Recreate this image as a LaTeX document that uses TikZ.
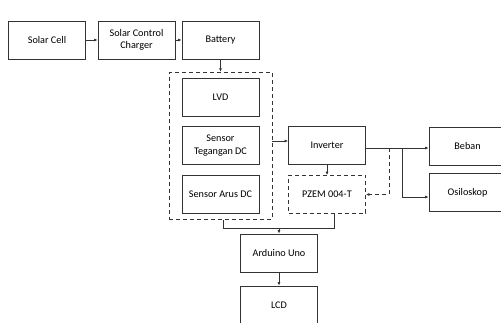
\documentclass[tikz,border=0pt]{standalone}
\usepackage{fontspec}
\setmainfont{Carlito}
\usetikzlibrary{arrows.meta,positioning,fit}

\tikzset{
    blok/.style={draw=black!80, minimum width=77pt, minimum height=38pt, align=center, font=\fontsize{10.2}{12.5}\selectfont},
    blokputus/.style={blok, dash pattern=on 4pt off 3pt},
    panah/.style={draw=black!80, -{Latex[length=3.5pt,width=3pt]}},
}

\begin{document}
\begin{tikzpicture}[x=1pt, y=-1pt, line width=0.7pt]
    \useasboundingbox (0,0) rectangle (501,323);
    \clip (0,0) rectangle (501,323);

    % baris atas
    \node[blok] (cell) at (47,40) {Solar Cell};
    \node[blok] (scc) at (136.5,40) {Solar Control\\Charger};
    \node[blok] (bat) at (220.5,40) {Battery};

    % kelompok sensor
    \node[blok] (lvd) at (220.5,97.5) {LVD};
    \node[blok] (teg) at (220.5,145.5) {Sensor\\Tegangan DC};
    \node[blok] (arus) at (220.5,194) {Sensor Arus DC};
    \node[draw=black!80, dash pattern=on 4pt off 3pt, fit=(lvd)(teg)(arus), inner xsep=12.5pt, inner ysep=6pt] (grp) {};

    % sisi AC
    \node[blok] (inv) at (327,145.5) {Inverter};
    \node[blokputus] (pzem) at (327,194.5) {PZEM 004-T};
    \node[blok] (beban) at (467.5,146) {Beban};
    \node[blok] (osc) at (467.5,192.5) {Osiloskop};

    % kontroler
    \node[blok] (ard) at (279,253) {Arduino Uno};
    \node[blok] (lcd) at (279,305) {LCD};

    % titik bantu
    \coordinate (invin) at ([yshift=4.5pt]inv.west);
    \coordinate (invout) at ([yshift=-2.5pt]inv.east);
    \coordinate (cab1) at ([xshift=23pt]invout);
    \coordinate (cab2) at ([xshift=36pt]invout);
    \coordinate (oscin) at ([yshift=-4.5pt]osc.west);
    \coordinate (gabung) at ([yshift=5pt]ard.north);

    % panah
    \draw[panah] (cell) -- (scc);
    \draw[panah] (scc) -- (bat);
    \draw[panah] (bat.south) -- (bat.south |- grp.north);
    \draw[panah] (grp.east |- invin) -- (invin);
    \draw[panah] (inv.south) -- (pzem.north);
    \draw[panah] (invout) -- (invout -| beban.west);
    \draw[panah] (cab2) |- (oscin);
    \draw[panah, dash pattern=on 4pt off 3pt] (cab1) |- (pzem.east);
    \draw[draw=black!80] ([xshift=3pt]grp.south) |- (gabung);
    \draw[draw=black!80] ([xshift=7pt]pzem.south) |- (gabung);
    \draw[panah] (gabung) -- (ard.north);
    \draw[panah] (ard) -- (lcd);
\end{tikzpicture}
\end{document}
